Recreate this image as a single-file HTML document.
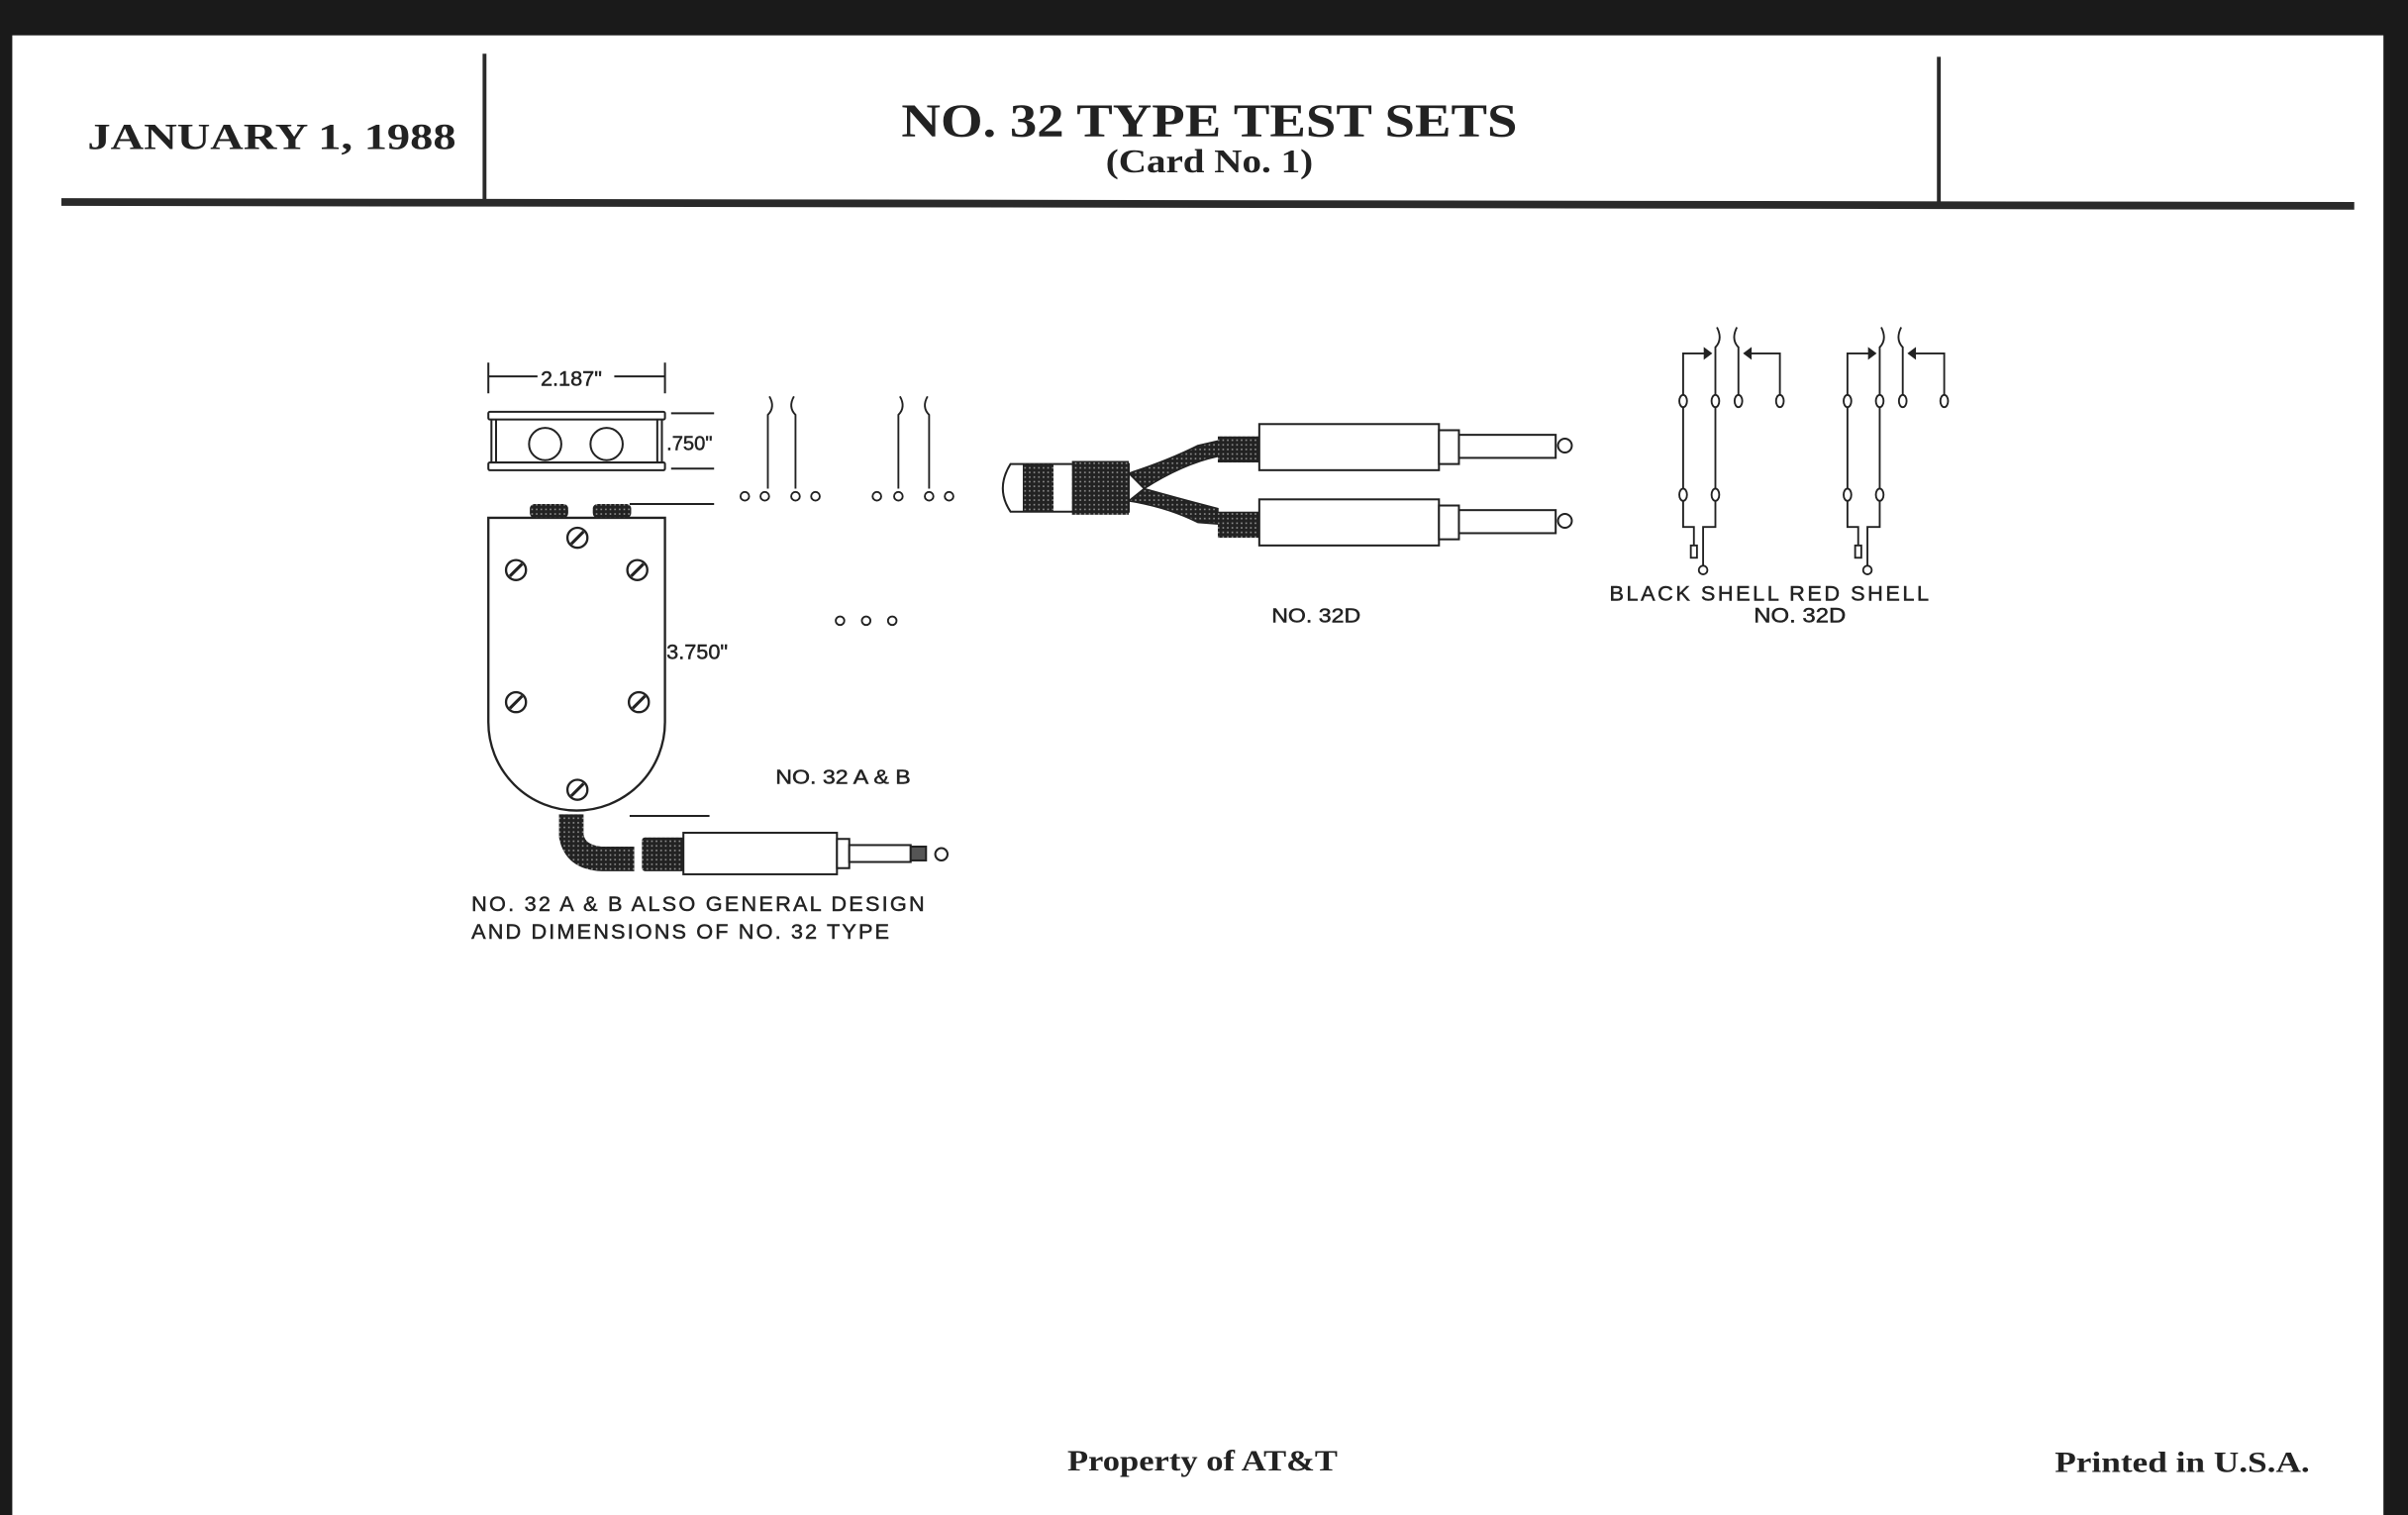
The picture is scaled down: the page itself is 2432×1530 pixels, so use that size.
<!DOCTYPE html>
<html><head><meta charset="utf-8"><style>
html,body{margin:0;padding:0;background:#fff}
svg{display:block}
.s{font-family:"Liberation Serif",serif;font-weight:bold;fill:#222}
.d{font-family:"Liberation Sans",sans-serif;fill:#222;stroke:#222;stroke-width:0.3}
</style></head><body>
<svg width="2432" height="1530" viewBox="0 0 1568 986" preserveAspectRatio="none" xmlns="http://www.w3.org/2000/svg">
<defs>
<pattern id="k" width="3" height="3" patternUnits="userSpaceOnUse"><rect width="3" height="3" fill="#222"/><rect x="1" y="1" width="1" height="1" fill="#999"/></pattern>
</defs>
<rect width="1568" height="986" fill="#fff"/>
<rect x="0" y="0" width="1568" height="23" fill="#1a1a1a"/>
<rect x="0" y="0" width="8" height="986" fill="#1a1a1a"/>
<rect x="1552" y="0" width="16" height="986" fill="#1a1a1a"/>
<g stroke="#2a2a2a" fill="none">
<line x1="315.5" y1="35" x2="315.5" y2="131" stroke-width="2.5"/>
<line x1="1262.5" y1="37" x2="1262.5" y2="133" stroke-width="2.5"/>
<path d="M40 131.5 L1533 134" stroke-width="5"/>
</g>
<text class="s" x="57" y="97" font-size="24" textLength="240" lengthAdjust="spacingAndGlyphs">JANUARY 1, 1988</text>
<text class="s" x="587" y="89" font-size="31" textLength="401" lengthAdjust="spacingAndGlyphs">NO. 32 TYPE TEST SETS</text>
<text class="s" x="720" y="112" font-size="22" font-weight="normal" textLength="135" lengthAdjust="spacingAndGlyphs">(Card No. 1)</text>
<text class="s" x="695" y="957" font-size="19" textLength="176" lengthAdjust="spacingAndGlyphs">Property of AT&amp;T</text>
<text class="s" x="1338" y="958" font-size="19" textLength="166" lengthAdjust="spacingAndGlyphs">Printed in U.S.A.</text>

<g stroke="#222" fill="none" stroke-width="1.3">
<line x1="318" y1="236" x2="318" y2="256"/><line x1="433" y1="236" x2="433" y2="256"/>
<line x1="318" y1="245" x2="350" y2="245"/><line x1="400" y1="245" x2="433" y2="245"/>
<rect x="318" y="268" width="115" height="5" rx="1"/>
<rect x="318" y="301" width="115" height="5" rx="1"/>
<line x1="320" y1="273" x2="320" y2="301"/><line x1="323" y1="273" x2="323" y2="301"/>
<line x1="428" y1="273" x2="428" y2="301"/><line x1="431" y1="273" x2="431" y2="301"/>
<circle cx="355" cy="289" r="10.5"/><circle cx="395" cy="289" r="10.5"/>
<line x1="437" y1="269" x2="465" y2="269"/><line x1="437" y1="305" x2="465" y2="305"/>
<line x1="410" y1="328" x2="465" y2="328"/>
<line x1="410" y1="531" x2="462" y2="531"/>
<path d="M318 337 L433 337 L433 470 A57 57 0 0 1 318 470 Z" stroke-width="1.5"/>
</g>
<rect x="345" y="328" width="25" height="9" rx="3" fill="url(#k)"/>
<rect x="386" y="328" width="25" height="9" rx="3" fill="url(#k)"/>
<g stroke="#222" fill="#fff" stroke-width="1.5">
<circle cx="376" cy="350" r="6.5"/><circle cx="336" cy="371" r="6.5"/><circle cx="415" cy="371" r="6.5"/>
<circle cx="336" cy="457" r="6.5"/><circle cx="416" cy="457" r="6.5"/><circle cx="376" cy="514" r="6.5"/>
</g>
<g stroke="#222" stroke-width="2">
<line x1="372" y1="354" x2="380" y2="346"/><line x1="332" y1="375" x2="340" y2="367"/><line x1="411" y1="375" x2="419" y2="367"/>
<line x1="332" y1="461" x2="340" y2="453"/><line x1="412" y1="461" x2="420" y2="453"/><line x1="372" y1="518" x2="380" y2="510"/>
</g>
<text class="d" x="352" y="251" font-size="14">2.187"</text>
<text class="d" x="434" y="293" font-size="13">.750"</text>
<text class="d" x="434" y="429" font-size="14">3.750"</text>
<path d="M364 530 L380 530 L380 543 Q381 550 392 551 L413 551 L413 567 L392 567 Q368 566 364 545 Z" fill="url(#k)"/>
<rect x="418" y="545" width="28" height="22" rx="2" fill="url(#k)"/>
<g stroke="#222" fill="#fff" stroke-width="1.3">
<rect x="445" y="542" width="100" height="27"/>
<rect x="545" y="546" width="8" height="19"/>
<rect x="553" y="550" width="40" height="11"/>
<rect x="593" y="551" width="10" height="9" fill="#555"/>
<circle cx="613" cy="556" r="4"/>
</g>
<text class="d" x="505" y="510" font-size="13" textLength="88" lengthAdjust="spacingAndGlyphs">NO. 32 A &amp; B</text>
<text class="d" x="307" y="593" font-size="14" textLength="295" lengthAdjust="spacing">NO. 32 A &amp; B ALSO GENERAL DESIGN</text>
<text class="d" x="307" y="611" font-size="14" textLength="272" lengthAdjust="spacing">AND DIMENSIONS OF NO. 32 TYPE</text>
<g stroke="#222" fill="#fff" stroke-width="1.2">
<path d="M500 318 L500 270 Q505 265 501 258" fill="none"/>
<path d="M518 318 L518 270 Q513 265 517 258" fill="none"/>
<path d="M585 318 L585 270 Q590 265 586 258" fill="none"/>
<path d="M605 318 L605 270 Q600 265 604 258" fill="none"/>
<circle cx="485" cy="323" r="2.8"/><circle cx="498" cy="323" r="2.8"/><circle cx="518" cy="323" r="2.8"/><circle cx="531" cy="323" r="2.8"/>
<circle cx="571" cy="323" r="2.8"/><circle cx="585" cy="323" r="2.8"/><circle cx="605" cy="323" r="2.8"/><circle cx="618" cy="323" r="2.8"/>
<circle cx="547" cy="404" r="2.8"/><circle cx="564" cy="404" r="2.8"/><circle cx="581" cy="404" r="2.8"/>
</g>
<path d="M735 308 Q760 300 780 290 L793 287 L793 297 Q770 302 745 318 Z" fill="url(#k)" stroke="#222" stroke-width="1"/>
<path d="M735 326 Q760 330 780 340 L793 341 L793 331 Q770 325 745 318 Z" fill="url(#k)" stroke="#222" stroke-width="1"/>
<path d="M658 302 L735 302 L735 333 L658 333 Q648 318 658 302 Z" fill="#fff" stroke="#222" stroke-width="1.3"/>
<rect x="666" y="302" width="20" height="31" fill="url(#k)"/>
<rect x="698" y="300" width="37" height="35" fill="url(#k)"/>
<rect x="793" y="284" width="28" height="17" fill="url(#k)"/>
<rect x="793" y="333" width="28" height="17" fill="url(#k)"/>
<g stroke="#222" fill="#fff" stroke-width="1.3">
<rect x="820" y="276" width="117" height="30"/><rect x="937" y="280" width="13" height="22"/>
<rect x="950" y="283" width="63" height="15"/><circle cx="1019" cy="290" r="4.5"/>
<rect x="820" y="325" width="117" height="30"/><rect x="937" y="329" width="13" height="22"/>
<rect x="950" y="332" width="63" height="15"/><circle cx="1019" cy="339" r="4.5"/>
</g>
<text class="d" x="828" y="405" font-size="13" textLength="58" lengthAdjust="spacingAndGlyphs">NO. 32D</text>
<g stroke="#222" fill="none" stroke-width="1.2" id="g1">
<path d="M1117 257 L1117 226 Q1122 221 1118 213"/><path d="M1132 257 L1132 226 Q1127 221 1131 213"/>
<path d="M1096 257 L1096 230 L1110 230"/><path d="M1110 227 L1114 230 L1110 233 Z" fill="#222"/>
<path d="M1159 257 L1159 230 L1140 230"/><path d="M1140 227 L1136 230 L1140 233 Z" fill="#222"/>
<ellipse cx="1096" cy="261" rx="2.5" ry="4" fill="#fff"/><ellipse cx="1117" cy="261" rx="2.5" ry="4" fill="#fff"/>
<ellipse cx="1132" cy="261" rx="2.5" ry="4" fill="#fff"/><ellipse cx="1159" cy="261" rx="2.5" ry="4" fill="#fff"/>
<line x1="1096" y1="265" x2="1096" y2="318"/><line x1="1117" y1="265" x2="1117" y2="318"/>
<ellipse cx="1096" cy="322" rx="2.5" ry="4" fill="#fff"/><ellipse cx="1117" cy="322" rx="2.5" ry="4" fill="#fff"/>
<path d="M1096 326 L1096 343 L1103 343 L1103 355"/><rect x="1101" y="355" width="4" height="8" fill="#fff"/>
<path d="M1117 326 L1117 343 L1109 343 L1109 368"/><circle cx="1109" cy="371" r="2.8" fill="#fff"/>
</g>
<use href="#g1" x="107"/>
<text class="d" x="1048" y="391" font-size="14" textLength="208" lengthAdjust="spacing">BLACK SHELL RED SHELL</text>
<text class="d" x="1142" y="405" font-size="14" textLength="60" lengthAdjust="spacingAndGlyphs">NO. 32D</text>
</svg>
</body></html>
